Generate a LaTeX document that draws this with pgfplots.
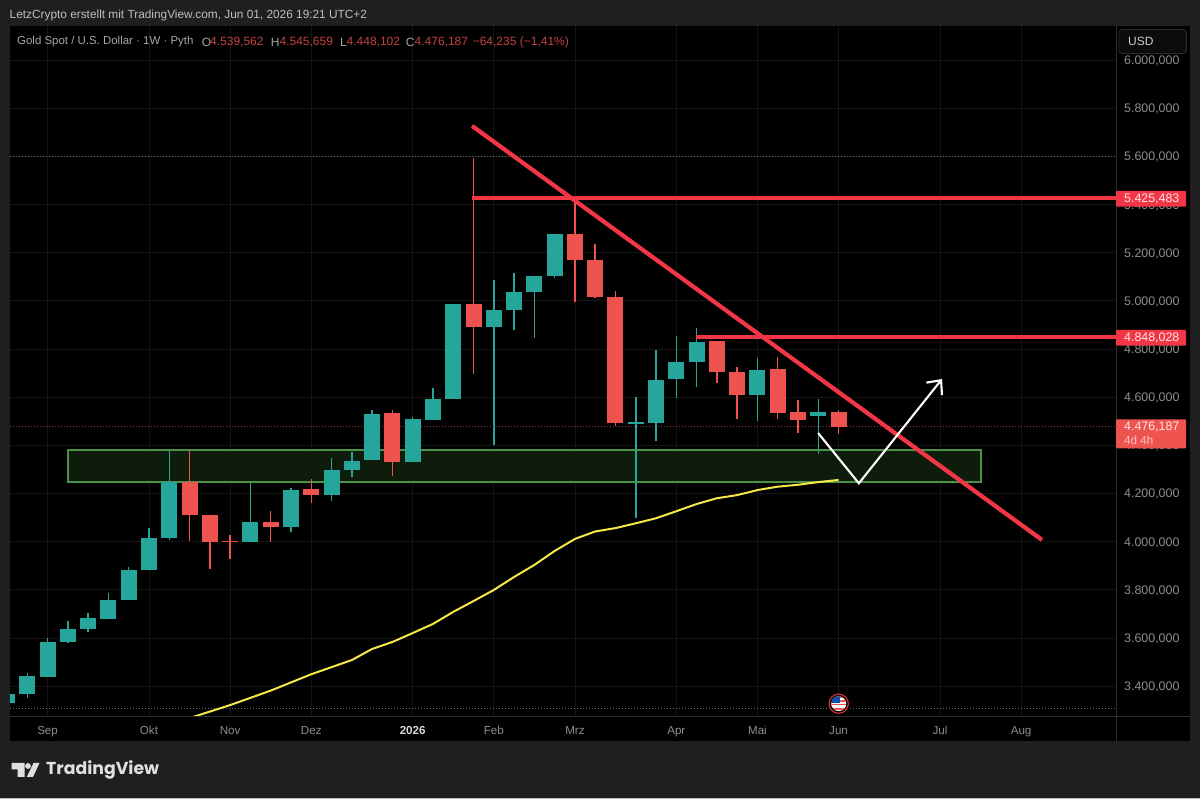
\documentclass[border=0pt]{standalone}
\usepackage{fontspec}
\setmainfont{Liberation Sans}
\newfontfamily\logofont{Poppins}
\usepackage{pgfplots}
\usepackage{pgfplotstable}
\pgfplotsset{compat=1.18}
\usetikzlibrary{arrows.meta}
\definecolor{frame}{RGB}{31,31,31}
\definecolor{sep}{RGB}{44,44,44}
\definecolor{gridc}{RGB}{20,20,20}
\definecolor{cup}{RGB}{38,166,154}
\definecolor{cdown}{RGB}{239,83,80}
\definecolor{tline}{RGB}{242,54,69}
\definecolor{boxl}{RGB}{76,146,70}
\definecolor{boxf}{RGB}{14,28,12}
\definecolor{maline}{RGB}{245,232,70}
\definecolor{lab}{RGB}{142,142,142}
\definecolor{legl}{RGB}{165,165,165}
\definecolor{dotg}{RGB}{105,105,105}
\definecolor{dotr}{RGB}{150,60,60}
\definecolor{legval}{RGB}{196,66,64}
\pgfplotstableread{
i o c h l
-1 3331 3369 3369 3331
0 3369 3443 3453 3349
1 3439 3583 3598 3436
2 3583 3638 3671 3578
3 3638 3683 3705 3626
4 3680 3756 3788 3680
5 3756 3883 3893 3756
6 3883 4015 4055 3883
7 4015 4247 4380 4007
11 3997 4080 4245 3997
13 4062 4215 4221 4040
15 4195 4296 4348 4167
16 4296 4336 4373 4269
17 4338 4531 4546 4338
19 4329 4508 4516 4329
20 4506 4592 4639 4506
21 4592 4985 4985 4592
23 4890 4963 5088 4401
24 4963 5038 5114 4879
25 5038 5104 5104 4844
26 5104 5277 5277 5093
30 4490 4497 4599 4097
31 4491 4671 4797 4418
32 4674 4746 4852 4598
33 4746 4828 4886 4643
36 4610 4713 4764 4500
39 4520 4537 4592 4364
}\upcandles
\pgfplotstableread{
i o c h l
8 4247 4109 4380 4004
9 4109 3998 4109 3886
10 4003 3999 4027 3926
12 4080 4062 4128 3997
14 4217 4193 4261 4161
18 4533 4329 4546 4272
22 4985 4890 5592 4695
27 5277 5169 5425 4996
28 5169 5016 5236 5010
29 5016 4491 5042 4480
34 4834 4706 4834 4657
35 4706 4610 4726 4508
37 4717 4535 4768 4510
38 4537 4506 4588 4452
40 4539.562 4476.187 4545.659 4448.102
}\downcandles
\pgfplotstableread{
i p
8 3267
10 3321
12 3381
14 3449
16 3508
17 3554
18 3583
19 3620
20 3658
21 3708
22 3753
23 3799
24 3853
25 3903
26 3961
27 4011
28 4042
29 4056
30 4076
31 4097
32 4126
33 4156
34 4180
35 4193
36 4214
37 4228
38 4236
39 4247
40 4256
}\maseries
\newcommand{\candles}[2]{%
  \addplot[draw=none,no markers,forget plot,error bars/.cd,y dir=both,y explicit,error mark=none,
    error bar style={draw=#2,line width=1.5pt}]
    table[x=i,y=c,y error plus expr=\thisrow{h}-\thisrow{c},y error minus expr=\thisrow{c}-\thisrow{l}]{#1};
  \addplot[draw=none,no markers,forget plot,error bars/.cd,y dir=both,y explicit,error mark=none,
    error bar style={draw=#2,line width=16pt}]
    table[x=i,y expr=(\thisrow{o}+\thisrow{c})/2,y error expr=abs(\thisrow{o}-\thisrow{c})/2]{#1};
}
\begin{document}
\begin{tikzpicture}
\begin{scope}[x=1pt,y=-1pt,shift={(0pt,799pt)}]
\fill[frame] (0,0) rectangle (1200,799);
\fill[white!75!black] (0,797.6) rectangle (1200,799);
\fill[black] (10,26) rectangle (1190,741);
\draw[sep,line width=0.9pt] (1116,26) -- (1116,741);
\draw[sep,line width=0.9pt] (10,716) -- (1190,716);
\node[anchor=west,inner sep=0,text=white!75!black,font=\fontsize{11.85}{14}\selectfont] at (9.5,15.5) {LetzCrypto erstellt mit TradingView.com, Jun 01, 2026 19:21 UTC+2};
\end{scope}
\begin{axis}[
  at={(10pt,83pt)},anchor=south west,scale only axis,width=1106pt,height=690pt,
  xmin=-0.853,xmax=53.68,ymin=3275.7,ymax=6141.2,
  axis line style={draw=none},tick style={draw=none},
  grid=major,grid style={gridc,line width=0.8pt},
  xtick={1,6,10,14,19,23,27,32,36,40,45,49},
  xticklabels={Sep,Okt,Nov,Dez,{\textbf{\textcolor{white!85!black}{2026}}},Feb,Mrz,Apr,Mai,Jun,Jul,Aug},
  ytick={3400,3600,3800,4000,4200,4400,4600,4800,5000,5200,5400,5600,5800,6000},
  yticklabels={{3.400,000},{3.600,000},{3.800,000},{4.000,000},{4.200,000},{4.400,000},{4.600,000},{4.800,000},{5.000,000},{5.200,000},{5.400,000},{5.600,000},{5.800,000},{6.000,000}},
  yticklabel pos=right,
  y tick label style={anchor=west,inner sep=0pt,xshift=8pt,yshift=-1pt,text=lab,font=\fontsize{12.4}{14}\selectfont},
  x tick label style={anchor=base,inner sep=0pt,yshift=-18.5pt,text=lab,font=\fontsize{11.6}{14}\selectfont},
]
% support zone
\addplot[fill=boxf,draw=boxl,line width=1.6pt,forget plot] coordinates {(2.01,4380)(47.03,4380)(47.03,4247)(2.01,4247)} -- cycle;
% price lines
\addplot[dotg,line width=0.9pt,dash pattern=on 1pt off 2pt,forget plot] coordinates {(-1,5598)(54,5598)};
\addplot[dotg,line width=0.9pt,dash pattern=on 1pt off 2pt,forget plot] coordinates {(-1,3309)(54,3309)};
\addplot[dotr,line width=0.9pt,dash pattern=on 1pt off 2pt,forget plot] coordinates {(-1,4476.187)(54,4476.187)};
\candles{\upcandles}{cup}
\candles{\downcandles}{cdown}
% moving average
\addplot[maline,line width=2pt,forget plot] table[x=i,y=p]{\maseries};
% drawings
\addplot[tline,line width=4.2pt,forget plot] coordinates {(21.93,5726)(50.03,4007)};
\addplot[tline,line width=3.8pt,forget plot] coordinates {(21.93,5425.483)(54,5425.483)};
\addplot[tline,line width=3.8pt,forget plot] coordinates {(32.97,4848.028)(54,4848.028)};
\addplot[white,line width=2.1pt,line join=miter,-{Straight Barb[length=11pt,width=20pt,line width=2.1pt]},forget plot] coordinates {(38.99,4451)(41,4242)(45.1,4675)};
\end{axis}
\begin{scope}[x=1pt,y=-1pt,shift={(0pt,799pt)}]
% legend line
\begin{scope}[every node/.style={anchor=west,inner sep=0,font=\fontsize{12}{14}\selectfont}]
\node[text=legl,font=\fontsize{11.45}{14}\selectfont] at (17,42) {Gold Spot / U.S. Dollar · 1W · Pyth};
\node[text=legl] at (201.7,42) {O};
\node[text=legval] at (210,42) {4.539,562};
\node[text=legl] at (270.6,42) {H};
\node[text=legval] at (279.4,42) {4.545,659};
\node[text=legl] at (340,42) {L};
\node[text=legval] at (346.5,42) {4.448,102};
\node[text=legl] at (405.7,42) {C};
\node[text=legval] at (414.5,42) {4.476,187};
\node[text=legval] at (472.6,42) {−64,235 (−1,41\%)};
\end{scope}
% USD box
\draw[sep,fill=black!60!frame,rounded corners=3pt,line width=0.8pt] (1119,29.5) rectangle (1186.5,53.5);
\node[anchor=west,inner sep=0,text=white!80!black,font=\fontsize{12}{14}\selectfont] at (1128,41.5) {USD};
% price tags
\fill[tline,rounded corners=1pt] (1116,191) rectangle (1186,206.7);
\node[anchor=west,inner sep=0,text=white!90!red,font=\fontsize{12.4}{14}\selectfont] at (1124,199) {5.425,483};
\fill[tline,rounded corners=1pt] (1116,330) rectangle (1186,345.7);
\node[anchor=west,inner sep=0,text=white!90!red,font=\fontsize{12.4}{14}\selectfont] at (1124,338) {4.848,028};
\fill[cdown,rounded corners=1pt] (1116,419.3) rectangle (1186,448.3);
\node[anchor=west,inner sep=0,text=white!90!red,font=\fontsize{12.4}{14}\selectfont] at (1124,427) {4.476,187};
\node[anchor=west,inner sep=0,text=white!65!cdown,font=\fontsize{11.6}{14}\selectfont] at (1124,440) {4d 4h};
% flag
\fill[black] (838.7,703.7) circle (10.5);
\draw[tline!85!black,line width=1.2pt] (838.7,703.7) circle (9.6);
\begin{scope}
\clip (838.7,703.7) circle (7.4);
\fill[white] (830,695) rectangle (848,712);
\foreach \yy in {696,700,704,708} {\fill[cdown] (830,\yy) rectangle (848,\yy+2);}
\fill[white] (830,705.5) rectangle (848,707.5);
\fill[blue!55!cyan!70!black] (830,695) rectangle (839.5,703.5);
\end{scope}
% logo
\fill[white!88!black] (11.5,763) -- (24.5,763) -- (24.5,777) -- (17.5,777) -- (17.5,769.5) -- (11.5,769.5) -- cycle;
\fill[white!88!black] (28,766) circle (2.9);
\fill[white!88!black] (33.5,763) -- (39.5,763) -- (33,777) -- (26.8,777) -- cycle;
\node[anchor=west,inner sep=0,text=white!88!black,font=\logofont\bfseries\fontsize{17.3}{20}\selectfont] at (46,770) {TradingView};
\end{scope}
\end{tikzpicture}
\end{document}
